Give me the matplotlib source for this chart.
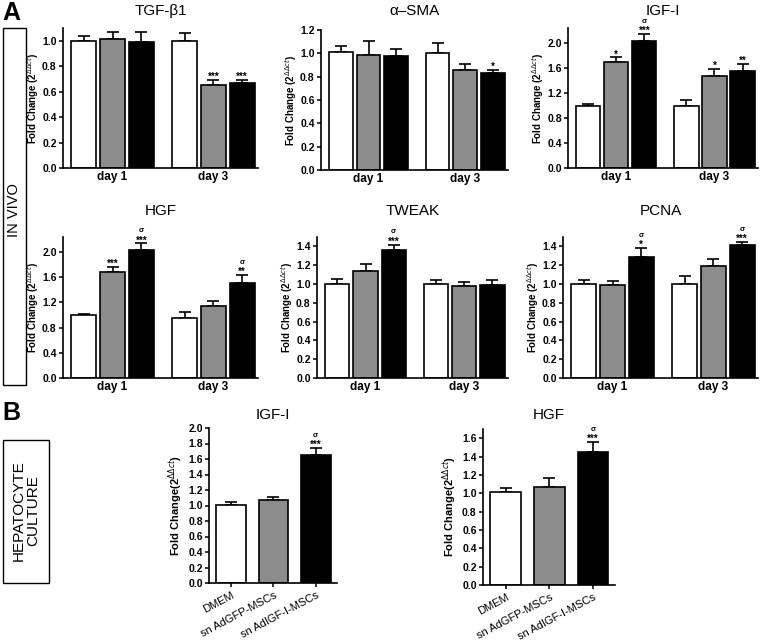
import numpy as np
import matplotlib
matplotlib.use("Agg")
import matplotlib.pyplot as plt
from matplotlib.patches import Rectangle

plt.rcParams['font.family'] = ['Liberation Sans', 'DejaVu Sans']

# panel A data: [day1 white, gray, black, day3 white, gray, black]
days = ["day 1", "day 3"]
tgf_mean = [1.00, 1.01, 0.99, 1.00, 0.65, 0.665]
tgf_err = [0.04, 0.06, 0.08, 0.06, 0.04, 0.03]
tgf_sig = ["", "", "", "", "***", "***"]

sma_mean = [1.01, 0.99, 0.98, 1.00, 0.855, 0.83]
sma_err = [0.05, 0.12, 0.06, 0.09, 0.05, 0.03]
sma_sig = ["", "", "", "", "", "*"]

igf_mean = [1.00, 1.69, 2.03, 1.00, 1.48, 1.56]
igf_err = [0.02, 0.08, 0.11, 0.09, 0.11, 0.10]
igf_sig = ["", "*", "σ***", "", "*", "**"]

hgf_mean = [1.00, 1.69, 2.03, 0.947, 1.14, 1.516]
hgf_err = [0.02, 0.08, 0.11, 0.10, 0.08, 0.12]
hgf_sig = ["", "***", "σ***", "", "", "σ**"]

tweak_mean = [1.00, 1.135, 1.365, 1.00, 0.977, 0.994]
tweak_err = [0.05, 0.075, 0.055, 0.04, 0.04, 0.045]
tweak_sig = ["", "", "σ***", "", "", ""]

pcna_mean = [1.00, 0.99, 1.287, 1.00, 1.195, 1.42]
pcna_err = [0.04, 0.04, 0.10, 0.08, 0.075, 0.03]
pcna_sig = ["", "", "σ*", "", "", "σ***"]

# panel B data
groups_b = ["DMEM", "sn AdGFP-MSCs", "sn AdIGF-I-MSCs"]
b_igf_mean = [1.006, 1.07, 1.657]
b_igf_err = [0.045, 0.035, 0.085]
b_hgf_mean = [1.01, 1.07, 1.447]
b_hgf_err = [0.05, 0.10, 0.115]
b_sig = ["", "", "σ***"]

colors = ["white", "#8c8c8c", "black"]
W, H = 760, 644
YLAB = r"Fold Change (2$^{\Delta\Delta ct}$)"
YLAB_B = r"Fold Change(2$^{\Delta\Delta ct}$)"


def add_ax(fig, left, top, right, bottom):
    return fig.add_axes([left / W, 1 - bottom / H, (right - left) / W, (bottom - top) / H])


def style(ax, ylim, yticks):
    for s in ["top", "right"]:
        ax.spines[s].set_visible(False)
    for s in ["left", "bottom"]:
        ax.spines[s].set_linewidth(1.2)
    ax.set_ylim(*ylim)
    ax.set_yticks(yticks)
    ax.set_yticklabels([f"{t:.1f}" for t in yticks], fontweight="bold", fontsize=7.5)
    ax.tick_params(axis="y", length=3, width=1.1, pad=1.5)


def sig_text(ax, xs, tops, sigs):
    # stars sit just above the error cap, sigma (vs AdGFP) above the stars
    for x, t, s in zip(xs, tops, sigs):
        if not s:
            continue
        stars = s.lstrip("σ")
        ax.annotate(stars, (x, t), xytext=(0, -1.5), textcoords="offset points",
                    ha="center", va="bottom", fontsize=7, fontweight="bold")
        if s.startswith("σ"):
            ax.annotate("σ", (x, t), xytext=(0, 6.5), textcoords="offset points",
                        ha="center", va="bottom", fontsize=5.5, fontweight="bold")


def put_title(fig, box, title, ypix):
    fig.text((box[0] + box[2]) / 2 / W, 1 - ypix / H, title, fontsize=11,
             ha="center", va="center")


def panel_a(fig, box, title, ty, mean, err, sig, ylim, yticks):
    ax = add_ax(fig, *box)
    xs = [g * 3.5 + i for g in range(2) for i in range(3)]
    ax.bar(xs, mean, width=0.86, color=colors * 2, edgecolor="black", linewidth=1.2, zorder=2)
    ax.errorbar(xs, mean, yerr=[[0] * 6, err], fmt="none", ecolor="black",
                elinewidth=1.2, capsize=4, capthick=1.2, zorder=1)
    sig_text(ax, xs, np.array(mean) + np.array(err), sig)
    style(ax, ylim, yticks)
    ax.set_xlim(-0.72, 6.05)
    ax.set_xticks([1, 4.5])
    ax.set_xticklabels(days, fontweight="bold", fontsize=8.5)
    ax.tick_params(axis="x", length=0, pad=2)
    ax.set_ylabel(YLAB, fontweight="bold", fontsize=7, labelpad=1)
    put_title(fig, box, title, ty)
    return ax


def panel_b(fig, box, title, mean, err, ylim, yticks):
    ax = add_ax(fig, *box)
    xs = np.arange(3)
    ax.bar(xs, mean, width=0.7, color=colors, edgecolor="black", linewidth=1.2, zorder=2)
    ax.errorbar(xs, mean, yerr=[[0] * 3, err], fmt="none", ecolor="black",
                elinewidth=1.2, capsize=4.5, capthick=1.2, zorder=1)
    sig_text(ax, xs, np.array(mean) + np.array(err), b_sig)
    style(ax, ylim, yticks)
    ax.set_xlim(-0.52, 2.5)
    ax.set_xticks(xs)
    ax.set_xticklabels(groups_b, rotation=28, ha="right", rotation_mode="anchor",
                       fontsize=8)
    ax.tick_params(axis="x", length=3, width=1.1, pad=2)
    ax.set_ylabel(YLAB_B, fontweight="bold", fontsize=8, labelpad=2)
    put_title(fig, box, title, 415)
    return ax


fig = plt.figure(figsize=(7.6, 6.44), dpi=100)

panel_a(fig, (63, 28, 258, 168), "TGF-β1", 11, tgf_mean, tgf_err, tgf_sig, (0, 1.1), np.arange(0, 1.01, 0.2))
panel_a(fig, (321, 30, 508, 170), "α–SMA", 11, sma_mean, sma_err, sma_sig, (0, 1.2), np.arange(0, 1.21, 0.2))
panel_a(fig, (568, 28, 758, 168), "IGF-I", 11, igf_mean, igf_err, igf_sig, (0, 2.24), np.arange(0, 2.01, 0.4))
panel_a(fig, (63, 237, 258, 378), "HGF", 211, hgf_mean, hgf_err, hgf_sig, (0, 2.24), np.arange(0, 2.01, 0.4))
panel_a(fig, (317, 237, 508, 378), "TWEAK", 211, tweak_mean, tweak_err, tweak_sig, (0, 1.5), np.arange(0, 1.41, 0.2))
panel_a(fig, (563, 237, 758, 378), "PCNA", 211, pcna_mean, pcna_err, pcna_sig, (0, 1.5), np.arange(0, 1.41, 0.2))

panel_b(fig, (209, 428, 337, 583), "IGF-I", b_igf_mean, b_igf_err, (0, 2.0), np.arange(0, 2.01, 0.2))
panel_b(fig, (483, 429, 615, 585), "HGF", b_hgf_mean, b_hgf_err, (0, 1.7), np.arange(0, 1.61, 0.2))

# panel letters and side boxes
fig.text(2 / W, 1 - 13 / H, "A", fontsize=18, fontweight="bold", va="center")
fig.text(2 / W, 1 - 413 / H, "B", fontsize=18, fontweight="bold", va="center")

fig.patches.append(Rectangle((3 / W, 1 - 385 / H), 23 / W, 357 / H, transform=fig.transFigure,
                             fill=False, edgecolor="black", linewidth=1.0))
fig.text(14.5 / W, 1 - 210 / H, "IN VIVO", rotation=90, fontsize=10.5, ha="center", va="center")

fig.patches.append(Rectangle((3 / W, 1 - 583 / H), 46 / W, 143 / H, transform=fig.transFigure,
                             fill=False, edgecolor="black", linewidth=1.0))
fig.text(26 / W, 1 - 511 / H, "HEPATOCYTE\nCULTURE", rotation=90, fontsize=11,
         ha="center", va="center", multialignment="center", linespacing=1.1)

fig.savefig("out.png", dpi=100)
